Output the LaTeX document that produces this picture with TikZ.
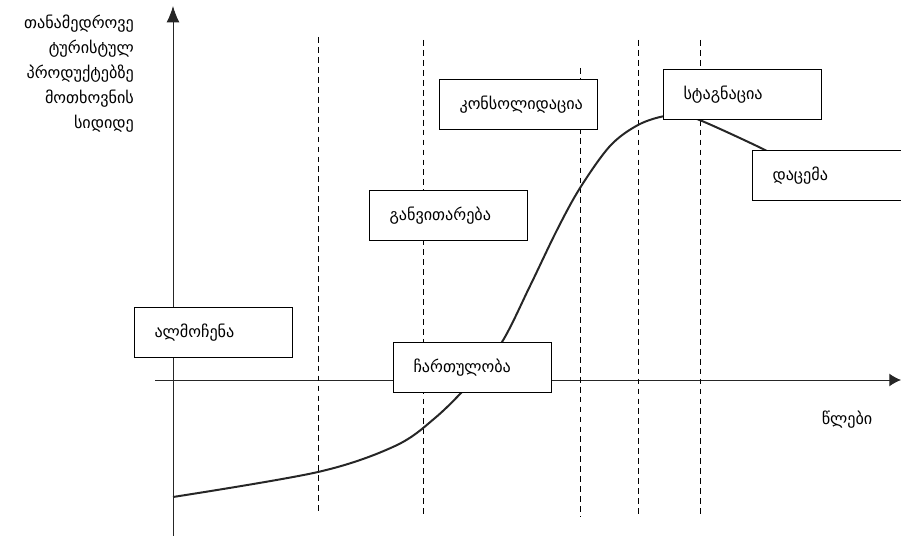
\documentclass[tikz,border=0pt]{standalone}
\usepackage{fontspec}
\newfontfamily\geofont[Script=Georgian]{DejaVu Sans}
\usetikzlibrary{arrows.meta}

\begin{document}
\begin{tikzpicture}[x=0.03cm, y=-0.03cm,
    stagebox/.style={draw, fill=white, line width=0.9pt, anchor=north west,
        text width=3.54cm, inner xsep=0.6cm, inner ysep=0pt, minimum height=1.5cm,
        align=left, font=\geofont\fontsize{13.8}{16}\selectfont},
    phase line/.style={line width=0.7pt, dash pattern=on 5pt off 3.5pt}]

    \useasboundingbox (0,0) rectangle (901,536);

    % axes
    \coordinate (O) at (173,380);
    \coordinate (ytop) at (173,6);
    \coordinate (ybot) at (173,536);
    \coordinate (xleft) at (155,380);
    \coordinate (xright) at (901,380);
    \draw[line width=0.8pt, gray!30!black, -{Latex[length=14pt, width=11pt]}] (ybot) -- (ytop);
    \draw[line width=0.8pt, gray!30!black, -{Latex[length=10pt, width=11pt]}] (xleft) -- (xright);

    % phases
    \draw[phase line] (318,37) -- (318,512);
    \draw[phase line] (423,40) -- (423,516);
    \draw[phase line] (580,68) -- (580,517);
    \draw[phase line] (638,40) -- (638,517);
    \draw[phase line] (700,40) -- (700,517);

    % demand curve
    \draw[line width=1.7pt, black!85] plot[smooth, tension=0.55] coordinates {
        (173,497) (318,472) (395,446) (435,418) (470,383) (502,342) (530,286)
        (557,230) (580,188) (610,146) (638,125) (665,116) (685,117) (702,121)
        (765,150) (790,165)};

    % labels
    \node[anchor=east, align=right, font=\geofont\fontsize{13.8}{21.2}\selectfont] (ylab) at (138,73.5)
        {თანამედროვე\\ტურისტულ\\პროდუქტებზე\\მოთხოვნის\\სიდიდე};
    \node[font=\geofont\fontsize{13.8}{16}\selectfont] (xlab) at (847,420) {წლები};

    \node[stagebox] (discovery) at (134,307) {ალმოჩენა};
    \node[stagebox] (involvement) at (393,342) {ჩართულობა};
    \node[stagebox] (development) at (369,190) {განვითარება};
    \node[stagebox] (consolidation) at (439,79) {კონსოლიდაცია};
    \node[stagebox] (stagnation) at (663,69) {სტაგნაცია};
    \node[stagebox] (decline) at (752,150) {დაცემა};

\end{tikzpicture}
\end{document}
